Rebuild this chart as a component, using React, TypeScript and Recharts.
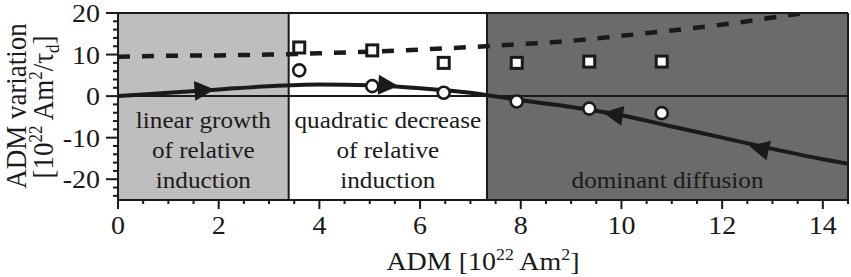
import React from "react";
import {
  ComposedChart,
  XAxis,
  YAxis,
  Line,
  Scatter,
  ReferenceArea,
  ReferenceLine,
  Label,
} from "recharts";

const FONT = '"Liberation Serif", "Times New Roman", "DejaVu Serif", serif';
const INK = "#1a1a1a";
const STRETCH = 1.12; // the source figure is a little wider than tall

// axes
const X_MIN = 0;
const X_MAX = 14.5;
const Y_MIN = -25;
const Y_MAX = 20;
const X_MAJOR = [0, 2, 4, 6, 8, 10, 12, 14];
const X_MINOR = Array.from({ length: 30 }, (_, i) => i * 0.5);
const Y_MAJOR = [-20, -10, 0, 10, 20];
const Y_MINOR = Array.from({ length: 23 }, (_, i) => -24 + i * 2);

// shaded regimes
const REGION_EDGES = [0, 3.39, 7.33, 14.5];
const REGION_FILLS = ["#bebebe", "#ffffff", "#6b6b6b"];
const REGION_TEXT = [
  ["linear growth", "of relative", "induction"],
  ["quadratic decrease", "of relative", "induction"],
  ["dominant diffusion"],
];

// dashed curve
const DASH_X = [0, 1, 2, 3, 4, 5, 6, 7, 8, 9, 10, 11, 12, 13, 13.6];
const DASH_Y = [9.5, 9.7, 9.8, 10.0, 10.3, 10.7, 11.2, 11.8, 12.5, 13.3, 14.5, 15.8, 17.2, 18.9, 20];

// solid curve
const SOLID_X = [0, 1, 2, 3, 4, 5, 6, 7, 8, 9, 10, 11, 12, 13, 14, 14.5];
const SOLID_Y = [0, 0.8, 1.6, 2.4, 2.8, 2.6, 1.9, 0.8, -1.0, -2.6, -4.6, -7.3, -10.0, -12.7, -15.2, -16.3];

// arrow heads along the solid curve (dir 1 = to the right, -1 = to the left)
const ARROW_X = [1.7, 5.35, 9.85, 12.75];
const ARROW_Y = [1.4, 2.6, -4.4, -12.6];
const ARROW_DIR = [1, 1, -1, -1];

// measured points
const PT_X = [3.6, 5.05, 6.47, 7.92, 9.36, 10.8];
const SQUARE_Y = [11.7, 11.0, 8.0, 8.0, 8.3, 8.3];
const CIRCLE_Y = [6.2, 2.4, 0.8, -1.3, -3.0, -4.1];

const W = 851;
const H = 277;
const LEFT = 118;
const RIGHT = 3;
const TOP = 13;
const BOTTOM = 77;
const PX_X = (W - LEFT - RIGHT) / (X_MAX - X_MIN);
const PX_Y = (H - TOP - BOTTOM) / (Y_MAX - Y_MIN);

const dashData = DASH_X.map((x, i) => ({ x, y: DASH_Y[i] }));
const solidData = SOLID_X.map((x, i) => ({ x, y: SOLID_Y[i] }));
const arrowData = ARROW_X.map((x, i) => ({ x, y: ARROW_Y[i], dir: ARROW_DIR[i] }));
const squareData = PT_X.map((x, i) => ({ x, y: SQUARE_Y[i] }));
const circleData = PT_X.map((x, i) => ({ x, y: CIRCLE_Y[i] }));

const textStyle = { fontFamily: FONT };

function slopeAt(x: number) {
  for (let i = 0; i < SOLID_X.length - 1; i++) {
    if (x >= SOLID_X[i] && x <= SOLID_X[i + 1]) {
      return (SOLID_Y[i + 1] - SOLID_Y[i]) / (SOLID_X[i + 1] - SOLID_X[i]);
    }
  }
  return 0;
}

function SText({ x, y, size, anchor = "middle", children }: any) {
  return (
    <text
      transform={`translate(${x},${y}) scale(${STRETCH},1)`}
      textAnchor={anchor}
      fontSize={size}
      style={textStyle}
      fill={INK}
    >
      {children}
    </text>
  );
}

function XTick({ x, y, payload }: any) {
  const major = X_MAJOR.includes(payload.value);
  return (
    <g>
      <line x1={x} x2={x} y1={y} y2={y + (major ? 9 : 4)} stroke={INK} strokeWidth={2} />
      {major && (
        <SText x={x} y={y + 34} size={25}>
          {String(payload.value)}
        </SText>
      )}
    </g>
  );
}

function YTick({ x, y, payload }: any) {
  const major = Y_MAJOR.includes(payload.value);
  return (
    <g>
      <line x1={x - (major ? 12 : 5)} x2={x} y1={y} y2={y} stroke={INK} strokeWidth={2} />
      {major && (
        <SText x={x - 18} y={y + 9} size={25} anchor="end">
          {String(payload.value)}
        </SText>
      )}
    </g>
  );
}

function RegionLabel({ viewBox, lines }: any) {
  const { x, y, width, height } = viewBox;
  const bottom = y + height;
  return (
    <g>
      {lines.map((t: string, i: number) => (
        <SText key={t + i} x={x + width / 2} y={bottom - 12 - (lines.length - 1 - i) * 30} size={22.5}>
          {t}
        </SText>
      ))}
    </g>
  );
}

function YTitle() {
  return (
    <g fill={INK}>
      <text
        transform={`translate(26,106) scale(${STRETCH},1) rotate(-90)`}
        textAnchor="middle"
        fontSize={27}
        style={textStyle}
      >
        ADM variation
      </text>
      <text
        transform={`translate(53,107) scale(${STRETCH},1) rotate(-90)`}
        textAnchor="middle"
        fontSize={27}
        style={textStyle}
      >
        [10
        <tspan fontSize={17} dy={-10}>22</tspan>
        <tspan dy={10}> Am</tspan>
        <tspan fontSize={17} dy={-10}>2</tspan>
        <tspan dy={10}>/τ</tspan>
        <tspan fontSize={17} dy={5}>d</tspan>
        <tspan dy={-5}>]</tspan>
      </text>
    </g>
  );
}

function XTitle() {
  return (
    <text
      transform={`translate(483,270) scale(${STRETCH},1)`}
      textAnchor="middle"
      fontSize={25}
      style={textStyle}
      fill={INK}
    >
      ADM [10
      <tspan fontSize={16} dy={-10}>22</tspan>
      <tspan dy={10}> Am</tspan>
      <tspan fontSize={16} dy={-10}>2</tspan>
      <tspan dy={10}>]</tspan>
    </text>
  );
}

function Arrow({ cx, cy, payload }: any) {
  const ang =
    (Math.atan2(-slopeAt(payload.x) * PX_Y, PX_X) * 180) / Math.PI +
    (payload.dir < 0 ? 180 : 0);
  return (
    <polygon
      points="11,0 -9,-10 -9,10"
      transform={`translate(${cx},${cy}) rotate(${ang})`}
      fill={INK}
    />
  );
}

function Square({ cx, cy }: any) {
  return (
    <rect x={cx - 5.5} y={cy - 5.5} width={11} height={11} fill="#fff" stroke={INK} strokeWidth={3} />
  );
}

function Circle({ cx, cy }: any) {
  return <circle cx={cx} cy={cy} r={6} fill="#fff" stroke={INK} strokeWidth={2.6} />;
}

export default function App() {
  return (
    <div style={{ position: "absolute", left: 0, top: 0, width: W, height: H, background: "#fff" }}>
      <ComposedChart
        width={W}
        height={H}
        margin={{ top: TOP, right: RIGHT, left: 0, bottom: 0 }}
      >
        <XAxis
          type="number"
          dataKey="x"
          domain={[X_MIN, X_MAX]}
          allowDataOverflow
          ticks={X_MINOR}
          interval={0}
          tickSize={0}
          tickMargin={0}
          tickLine={false}
          tick={<XTick />}
          height={BOTTOM}
          axisLine={{ stroke: INK, strokeWidth: 2 }}
        >
          <Label content={() => <XTitle />} />
        </XAxis>
        <YAxis
          type="number"
          dataKey="y"
          domain={[Y_MIN, Y_MAX]}
          allowDataOverflow
          ticks={Y_MINOR}
          interval={0}
          tickSize={0}
          tickMargin={0}
          tickLine={false}
          tick={<YTick />}
          width={LEFT}
          axisLine={{ stroke: INK, strokeWidth: 2 }}
        >
          <Label content={() => <YTitle />} />
        </YAxis>

        {REGION_FILLS.map((fill, i) => (
          <ReferenceArea
            key={fill}
            x1={REGION_EDGES[i]}
            x2={REGION_EDGES[i + 1]}
            y1={Y_MIN}
            y2={Y_MAX}
            fill={fill}
            fillOpacity={1}
            stroke="none"
            label={(p: any) => <RegionLabel viewBox={p.viewBox} lines={REGION_TEXT[i]} />}
          />
        ))}
        <ReferenceLine y={0} stroke={INK} strokeWidth={2} />
        <ReferenceLine y={Y_MAX} stroke={INK} strokeWidth={2} />
        <ReferenceLine x={X_MAX} stroke={INK} strokeWidth={2} />
        <ReferenceLine x={REGION_EDGES[1]} stroke={INK} strokeWidth={2} />
        <ReferenceLine x={REGION_EDGES[2]} stroke={INK} strokeWidth={2} />

        <Line
          data={dashData}
          dataKey="y"
          type="monotone"
          stroke={INK}
          strokeWidth={4.5}
          strokeDasharray="12 12"
          dot={false}
          activeDot={false}
          isAnimationActive={false}
        />
        <Line
          data={solidData}
          dataKey="y"
          type="monotone"
          stroke={INK}
          strokeWidth={4}
          dot={false}
          activeDot={false}
          isAnimationActive={false}
        />
        <Scatter data={arrowData} dataKey="y" shape={<Arrow />} isAnimationActive={false} />
        <Scatter data={squareData} dataKey="y" shape={<Square />} isAnimationActive={false} />
        <Scatter data={circleData} dataKey="y" shape={<Circle />} isAnimationActive={false} />
      </ComposedChart>
    </div>
  );
}
